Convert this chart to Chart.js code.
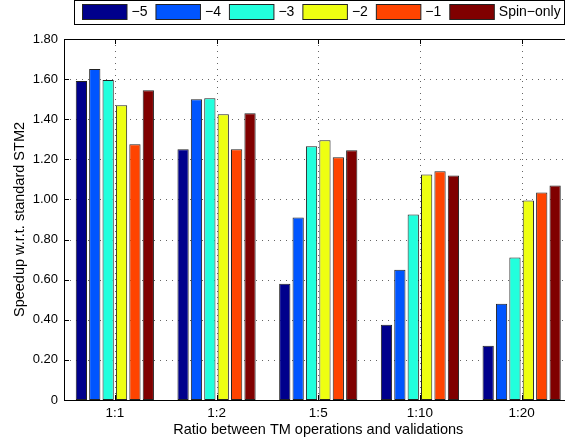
<!DOCTYPE html>
<html>
<head>
<meta charset="utf-8">
<script src="https://cdn.jsdelivr.net/npm/chart.js@4"></script>
<style>
  body { margin: 0; background: #fff; }
  #wrap { width: 565px; height: 444px; overflow: hidden; }
</style>
</head>
<body>
<div id="wrap"><canvas id="myChart" width="580" height="444"></canvas></div>
<script>
// Data
var ratios = ["1:1", "1:2", "1:5", "1:10", "1:20"];
var seriesNames = ["\u22125", "\u22124", "\u22123", "\u22122", "\u22121", "Spin\u2212only"];
var minus5 = [1.59, 1.25, 0.58, 0.375, 0.27];
var minus4 = [1.65, 1.50, 0.91, 0.65, 0.48];
var minus3 = [1.595, 1.505, 1.265, 0.925, 0.71];
var minus2 = [1.47, 1.425, 1.295, 1.125, 0.995];
var minus1 = [1.275, 1.25, 1.21, 1.14, 1.035];
var spinOnly = [1.545, 1.43, 1.245, 1.12, 1.07];
var yTicks = [0, 0.2, 0.4, 0.6, 0.8, 1.0, 1.2, 1.4, 1.6, 1.8];

var colors = ["#00008C", "#0055FF", "#22FFDD", "#EEFF11", "#FF4400", "#800000"];
var font = "'Liberation Sans', Arial, Helvetica, sans-serif";

// dotted grid (matlab style), drawn under the bars
var dottedGrid = {
  id: "dottedGrid",
  beforeDatasetsDraw: function (chart) {
    var ctx = chart.ctx;
    var a = chart.chartArea;
    var ys = chart.scales.y;
    var xs = chart.scales.x;
    ctx.save();
    ctx.strokeStyle = "#666";
    ctx.lineWidth = 1;
    ctx.setLineDash([1, 5]);
    ys.ticks.forEach(function (t, i) {
      var py = Math.round(ys.getPixelForTick(i)) + 0.5;
      ctx.beginPath();
      ctx.moveTo(a.left, py);
      ctx.lineTo(a.right, py);
      ctx.stroke();
    });
    ratios.forEach(function (r, i) {
      var px = Math.round(xs.getPixelForValue(i)) + 0.5;
      ctx.beginPath();
      ctx.moveTo(px, a.top);
      ctx.lineTo(px, a.bottom);
      ctx.stroke();
    });
    ctx.restore();
  },
};

// legend box drawn like matlab's
var legendBox = {
  id: "legendBox",
  afterDraw: function (chart) {
    var ctx = chart.ctx;
    ctx.save();
    ctx.font = "14px " + font;
    ctx.textBaseline = "middle";
    ctx.fillStyle = "#fff";
    ctx.fillRect(74.5, 0.5, 490, 24);
    ctx.strokeStyle = "#000";
    ctx.lineWidth = 1;
    ctx.strokeRect(74.5, 0.5, 490, 24);
    var x = 82.5;
    chart.data.datasets.forEach(function (ds) {
      ctx.fillStyle = ds.backgroundColor;
      ctx.fillRect(x, 4.5, 44.5, 15);
      ctx.strokeStyle = "#222";
      ctx.strokeRect(x, 4.5, 44.5, 15);
      ctx.fillStyle = "#000";
      ctx.fillText(ds.label, x + 49, 12.5);
      x += 44.5 + 4.5 + ctx.measureText(ds.label).width + 8.5;
    });
    ctx.restore();
  },
};

// axes frame with small inward ticks
var frame = {
  id: "frame",
  afterDatasetsDraw: function (chart) {
    var ctx = chart.ctx;
    var a = chart.chartArea;
    ctx.save();
    ctx.strokeStyle = "#000";
    ctx.lineWidth = 1;
    ctx.strokeRect(Math.round(a.left) + 0.5, Math.round(a.top) + 0.5, Math.round(a.right - a.left), Math.round(a.bottom - a.top));
    var ys = chart.scales.y;
    ys.ticks.forEach(function (t, i) {
      var py = Math.round(ys.getPixelForTick(i)) + 0.5;
      ctx.beginPath();
      ctx.moveTo(a.left, py);
      ctx.lineTo(a.left + 5, py);
      ctx.stroke();
    });
    var xs = chart.scales.x;
    ratios.forEach(function (r, i) {
      var px = Math.round(xs.getPixelForValue(i)) + 0.5;
      ctx.beginPath();
      ctx.moveTo(px, a.bottom);
      ctx.lineTo(px, a.bottom - 5);
      ctx.moveTo(px, a.top);
      ctx.lineTo(px, a.top + 5);
      ctx.stroke();
    });
    ctx.restore();
  },
};

var allSeries = [minus5, minus4, minus3, minus2, minus1, spinOnly];
var datasets = allSeries.map(function (vals, i) {
  return {
    label: seriesNames[i],
    data: vals,
    backgroundColor: colors[i],
    borderColor: "#222",
    borderWidth: 1,
    borderSkipped: false,
    categoryPercentage: 0.79,
    barPercentage: 0.84,
  };
});

var ctx = document.getElementById("myChart").getContext("2d");
var myChart = new Chart(ctx, {
  type: "bar",
  data: {
    labels: ratios,
    datasets: datasets,
  },
  options: {
    responsive: false,
    animation: false,
    layout: {
      padding: { left: 0, right: 7.5, top: 39, bottom: 0 },
    },
    plugins: {
      legend: { display: false },
      tooltip: { enabled: false },
    },
    scales: {
      x: {
        afterFit: function (scale) {
          scale.height = 44;
        },
        grid: { display: false, drawTicks: false },
        border: { display: false },
        ticks: {
          color: "#000",
          padding: 5,
          font: { family: font, size: 13.5 },
        },
        title: {
          display: true,
          text: "Ratio between TM operations and validations",
          color: "#000",
          font: { family: font, size: 14.5 },
          padding: { top: 0, bottom: 5 },
        },
      },
      y: {
        min: 0,
        max: 1.8,
        afterFit: function (scale) {
          scale.width = 64;
        },
        afterBuildTicks: function (scale) {
          scale.ticks = yTicks.map(function (v) {
            return { value: v };
          });
        },
        grid: { display: false, drawTicks: false },
        border: { display: false },
        ticks: {
          color: "#000",
          padding: 6,
          font: { family: font, size: 13 },
          callback: function (v) {
            return v === 0 ? "0" : v.toFixed(2);
          },
        },
        title: {
          display: true,
          text: "Speedup w.r.t. standard STM2",
          color: "#000",
          font: { family: font, size: 14.5 },
          padding: { top: 11, bottom: 0 },
        },
      },
    },
  },
  plugins: [dottedGrid, frame, legendBox],
});
</script>
</body>
</html>
